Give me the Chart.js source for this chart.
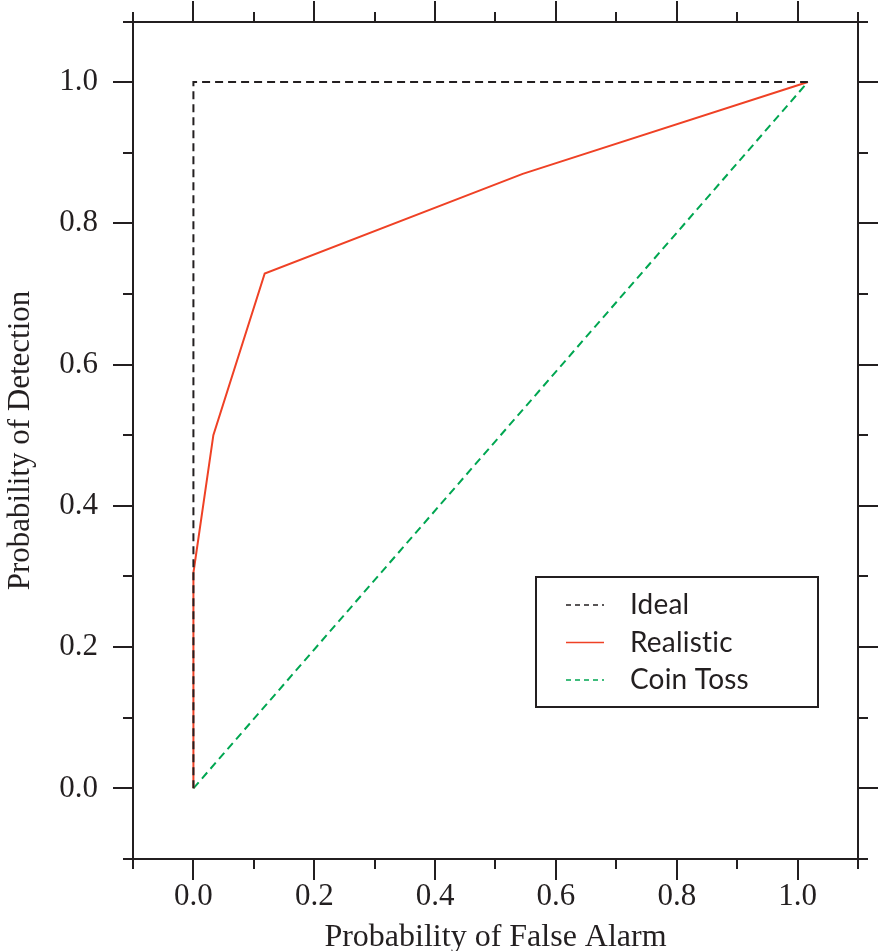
<!DOCTYPE html>
<html lang="en">
<head>
    <meta charset="UTF-8">
    <title>ROC Curve</title>
    <script src="https://cdn.jsdelivr.net/npm/chart.js"></script>
    <style>
        body { margin: 0; background: #fff; }
        #wrap { width: 883px; height: 951px; position: relative; }
    </style>
</head>
<body>
    <div id="wrap">
        <canvas id="rocChart"></canvas>
    </div>

    <script>
        // Curve data
        const idealX = [0, 0, 1.017];
        const idealY = [0, 1.0, 1.0];
        const realisticX = [0, 0, 0.033, 0.118, 0.545, 1.017];
        const realisticY = [0, 0.305, 0.5, 0.729, 0.87, 1.0];
        const coinX = [0, 1.017];
        const coinY = [0, 1.0];

        // Axis ticks
        const xTicks = [0.0, 0.2, 0.4, 0.6, 0.8, 1.0];
        const yTicks = [0.0, 0.2, 0.4, 0.6, 0.8, 1.0];
        const xMinorTicks = [-0.1, 0.1, 0.3, 0.5, 0.7, 0.9, 1.1];
        const yMinorTicks = [-0.1, 0.1, 0.3, 0.5, 0.7, 0.9];

        const ink = '#231f20';
        const toPoints = (xs, ys) => xs.map((x, i) => ({ x: x, y: ys[i] }));

        // Draws the box frame with outward ticks on all four sides, plus the legend box
        const framePlugin = {
            id: 'frame',
            afterDraw(chart) {
                const ctx = chart.ctx;
                const a = chart.chartArea;
                const xs = chart.scales.x, ys = chart.scales.y;
                ctx.save();
                ctx.strokeStyle = ink;
                ctx.lineWidth = 2;
                ctx.lineCap = 'butt';
                ctx.strokeRect(a.left, a.top, a.right - a.left, a.bottom - a.top);

                function tickX(v, len) {
                    const px = Math.round(xs.getPixelForValue(v));
                    ctx.beginPath();
                    ctx.moveTo(px, a.bottom); ctx.lineTo(px, a.bottom + len);
                    ctx.moveTo(px, a.top); ctx.lineTo(px, a.top - len);
                    ctx.stroke();
                }
                function tickY(v, len) {
                    const py = Math.round(ys.getPixelForValue(v));
                    ctx.beginPath();
                    ctx.moveTo(a.left, py); ctx.lineTo(a.left - len, py);
                    ctx.moveTo(a.right, py); ctx.lineTo(a.right + len, py);
                    ctx.stroke();
                }
                xTicks.forEach(v => tickX(v, 21));
                xMinorTicks.forEach(v => tickX(v, 10));
                yTicks.forEach(v => tickY(v, 20));
                yMinorTicks.forEach(v => tickY(v, 10));
                // corner stubs at the top of the y axis
                ctx.beginPath();
                ctx.moveTo(a.left, a.top); ctx.lineTo(a.left - 10, a.top);
                ctx.moveTo(a.right, a.top); ctx.lineTo(a.right + 10, a.top);
                ctx.stroke();

                // legend
                const bx = a.left + 403, by = a.top + 555, bw = 282, bh = 130;
                ctx.lineWidth = 2;
                ctx.strokeRect(bx, by, bw, bh);
                ctx.font = '28px Lato';
                ctx.letterSpacing = '0.2px'; // keeps "ti" from turning into a ligature
                ctx.textBaseline = 'middle';
                ctx.textAlign = 'left';
                chart.data.datasets.forEach((ds, i) => {
                    const ly = by + 28 + i * 37.5;
                    ctx.beginPath();
                    ctx.strokeStyle = ds.borderColor;
                    ctx.lineWidth = 1.5;
                    ctx.setLineDash(ds.borderDash && ds.borderDash.length ? [5, 4] : []);
                    ctx.moveTo(bx + 30, ly);
                    ctx.lineTo(bx + 68, ly);
                    ctx.stroke();
                    ctx.setLineDash([]);
                    ctx.fillStyle = ink;
                    ctx.fillText(ds.label, bx + 94, ly);
                });
                ctx.restore();
            }
        };

        const ctx = document.getElementById('rocChart').getContext('2d');
        const rocChart = new Chart(ctx, {
            type: 'scatter',
            data: {
                datasets: [
                    {
                        label: 'Ideal',
                        data: toPoints(idealX, idealY),
                        borderColor: ink,
                        borderWidth: 2,
                        borderDash: [8, 5],
                        showLine: true,
                        pointRadius: 0,
                        order: 1
                    },
                    {
                        label: 'Realistic',
                        data: toPoints(realisticX, realisticY),
                        borderColor: '#ef4125',
                        borderWidth: 2,
                        borderDash: [],
                        showLine: true,
                        pointRadius: 0,
                        order: 2
                    },
                    {
                        label: 'Coin Toss',
                        data: toPoints(coinX, coinY),
                        borderColor: '#00a651',
                        borderWidth: 2,
                        borderDash: [8, 5],
                        showLine: true,
                        pointRadius: 0,
                        order: 3
                    }
                ]
            },
            options: {
                responsive: true,
                maintainAspectRatio: false,
                animation: false,
                layout: { padding: { top: 22, right: 25, left: 0, bottom: 0 } },
                scales: {
                    x: {
                        type: 'linear',
                        min: -0.1,
                        max: 1.1,
                        afterBuildTicks: s => { s.ticks = xTicks.map(v => ({ value: v })); },
                        afterFit: s => { s.height = 92; s.paddingLeft = 0; s.paddingRight = 0; },
                        grid: { display: false, drawTicks: false },
                        border: { display: false },
                        ticks: {
                            callback: v => v.toFixed(1),
                            font: { family: 'Liberation Serif', size: 31, lineHeight: 1 },
                            color: ink,
                            padding: 22,
                            maxRotation: 0,
                            autoSkip: false
                        },
                        title: {
                            display: true,
                            text: 'Probability of False Alarm',
                            font: { family: 'Liberation Serif', size: 32, lineHeight: 1 },
                            color: ink,
                            padding: { top: 0, bottom: -3 }
                        }
                    },
                    y: {
                        type: 'linear',
                        min: -0.1,
                        max: 1.085,
                        afterBuildTicks: s => { s.ticks = yTicks.map(v => ({ value: v })); },
                        afterFit: s => { s.width = 133; s.paddingTop = 0; s.paddingBottom = 0; },
                        grid: { display: false, drawTicks: false },
                        border: { display: false },
                        ticks: {
                            callback: v => v.toFixed(1),
                            font: { family: 'Liberation Serif', size: 31, lineHeight: 1 },
                            color: ink,
                            padding: 35,
                            autoSkip: false
                        },
                        title: {
                            display: true,
                            text: 'Probability of Detection',
                            font: { family: 'Liberation Serif', size: 31, lineHeight: 1 },
                            color: ink,
                            padding: { top: 5, bottom: 0 }
                        }
                    }
                },
                plugins: {
                    legend: { display: false },
                    tooltip: { enabled: false }
                }
            },
            plugins: [framePlugin]
        });
    </script>
</body>
</html>
